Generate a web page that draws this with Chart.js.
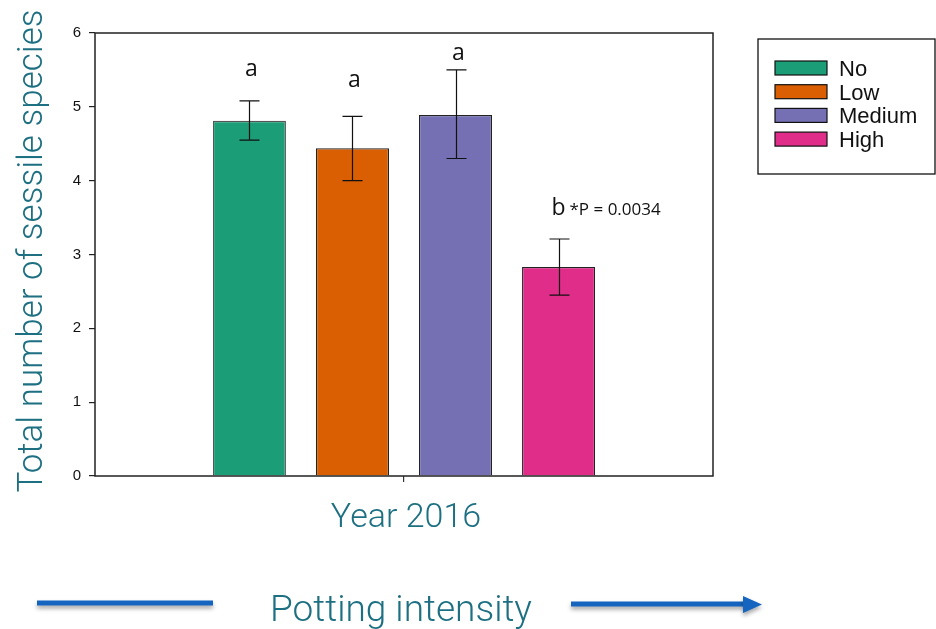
<!DOCTYPE html>
<html><head><meta charset="utf-8">
<script src="https://cdn.jsdelivr.net/npm/chart.js@4/dist/chart.umd.min.js"></script>
<style>html,body{margin:0;padding:0;background:#fff;}#wrap{width:936px;height:629px;position:relative;}</style>
</head><body><div id="wrap"><canvas id="c" width="936" height="629"></canvas></div>
<script>
const categories = ['Year 2016'];
const groups = ['No', 'Low', 'Medium', 'High'];
const means = [4.81, 4.44, 4.89, 2.83];
const errLow = [4.55, 4.00, 4.30, 2.45];
const errHigh = [5.08, 4.87, 5.50, 3.21];
const sigLetters = ['a', 'a', 'a', 'b'];
const sigNotes = ['', '', '', '*P = 0.0034'];
const sigY = [5.42, 5.27, 5.63, 3.53];
const yTicks = [0, 1, 2, 3, 4, 5, 6];
const yTitle = 'Total number of sessile species';
const bottomCaption = 'Potting intensity';
const colors = ['#1b9e77', '#d95f02', '#7570b3', '#e02d8a'];
const borderColors = ['#555555', '#222222', '#222222', '#222222'];

const TEAL = '#1d6f82';
const BLUE = '#1565c0';

const datasets = groups.map((g, i) => ({
  label: g,
  data: [means[i]],
  backgroundColor: colors[i],
  borderColor: borderColors[i],
  borderWidth: 1.3,
  categoryPercentage: 0.667,
  barPercentage: 0.709
}));

const overlay = {
  id: 'overlay',
  afterDatasetsDraw(chart) {
    const { ctx, chartArea: a, scales: { y } } = chart;
    ctx.save();
    chart.data.datasets.forEach((ds, i) => {
      const bar = chart.getDatasetMeta(i).data[0];
      const x = Math.round(bar.x) + 0.5;
      const yl = y.getPixelForValue(errLow[i]);
      const yh = y.getPixelForValue(errHigh[i]);
      ctx.strokeStyle = '#111';
      ctx.lineWidth = 1.2;
      ctx.beginPath();
      ctx.moveTo(x, yl); ctx.lineTo(x, yh);
      ctx.moveTo(x - 10, yh); ctx.lineTo(x + 10, yh);
      ctx.moveTo(x - 10, yl); ctx.lineTo(x + 10, yl);
      ctx.stroke();
      const ly = y.getPixelForValue(sigY[i]);
      ctx.fillStyle = '#111';
      ctx.textBaseline = 'alphabetic';
      ctx.font = '23px "Open Sans", "Liberation Sans", sans-serif';
      if (sigNotes[i]) {
        ctx.textAlign = 'center';
        ctx.fillText(sigLetters[i], x - 1, ly);
        ctx.textAlign = 'left';
        ctx.font = '17px "Open Sans", "Liberation Sans", sans-serif';
        ctx.fillText(sigNotes[i], x + 10, ly);
      } else {
        ctx.textAlign = 'center';
        ctx.fillText(sigLetters[i], x + 2, ly);
      }
    });
    ctx.strokeStyle = '#222';
    ctx.lineWidth = 1.5;
    ctx.strokeRect(a.left, a.top, a.right - a.left, a.bottom - a.top);
    ctx.restore();
  },
  afterDraw(chart) {
    const { ctx, chartArea: a, scales: { x } } = chart;
    ctx.save();
    ctx.fillStyle = TEAL;
    ctx.font = '300 35px Roboto, "Liberation Sans", sans-serif';
    ctx.textAlign = 'center';
    ctx.textBaseline = 'alphabetic';
    ctx.translate(42, 251);
    ctx.rotate(-Math.PI / 2);
    ctx.fillText(yTitle, 0, 0);
    ctx.restore();

    ctx.save();
    ctx.fillStyle = TEAL;
    ctx.font = '300 34px Roboto, "Liberation Sans", sans-serif';
    ctx.textAlign = 'center';
    ctx.textBaseline = 'alphabetic';
    ctx.fillText(chart.data.labels[0], x.getPixelForValue(0) + 2, 527);
    ctx.font = '300 37px Roboto, "Liberation Sans", sans-serif';
    ctx.fillText(bottomCaption, 401, 621);

    ctx.shadowColor = 'rgba(0,0,0,0.35)';
    ctx.shadowBlur = 4;
    ctx.shadowOffsetY = 3;
    ctx.strokeStyle = BLUE;
    ctx.fillStyle = BLUE;
    ctx.lineWidth = 5;
    ctx.beginPath();
    ctx.moveTo(37, 603); ctx.lineTo(213, 603);
    ctx.stroke();
    ctx.beginPath();
    ctx.moveTo(571, 604); ctx.lineTo(745, 604);
    ctx.stroke();
    ctx.beginPath();
    ctx.moveTo(743, 596); ctx.lineTo(762, 604.5); ctx.lineTo(743, 613);
    ctx.closePath();
    ctx.fill();
    ctx.restore();

    ctx.save();
    ctx.strokeStyle = '#111';
    ctx.lineWidth = 1.3;
    ctx.strokeRect(758, 39, 177, 135);
    chart.data.datasets.forEach((ds, i) => {
      const top = 61 + i * 23.7;
      ctx.fillStyle = ds.backgroundColor;
      ctx.fillRect(775, top, 52, 14);
      ctx.strokeStyle = '#111';
      ctx.lineWidth = 1.2;
      ctx.strokeRect(775, top, 52, 14);
      ctx.fillStyle = '#111';
      ctx.font = '22px "Liberation Sans", Arial, sans-serif';
      ctx.textAlign = 'left';
      ctx.textBaseline = 'alphabetic';
      ctx.fillText(ds.label, 839, top + 15);
    });
    ctx.restore();
  }
};

new Chart(document.getElementById('c'), {
  type: 'bar',
  data: { labels: categories, datasets },
  options: {
    responsive: false,
    animation: false,
    layout: { padding: { top: 33, right: 223, left: 0, bottom: 0 } },
    plugins: { legend: { display: false }, tooltip: { enabled: false }, title: { display: false } },
    scales: {
      x: {
        afterFit(s) { s.height = 153; },
        grid: { offset: false, drawOnChartArea: false, drawTicks: true, tickLength: 6, color: '#333', lineWidth: 1.2 },
        border: { display: false },
        ticks: { display: false }
      },
      y: {
        min: 0, max: 6,
        afterFit(s) { s.width = 95; },
        afterBuildTicks(s) { s.ticks = yTicks.map(v => ({ value: v })); },
        grid: { drawOnChartArea: false, drawTicks: true, tickLength: 6, color: '#222', lineWidth: 1.2 },
        border: { display: false },
        ticks: { color: '#111', padding: 8, font: { family: '"Liberation Sans", Arial, sans-serif', size: 15 } }
      }
    }
  },
  plugins: [overlay]
});
</script>
</body></html>
